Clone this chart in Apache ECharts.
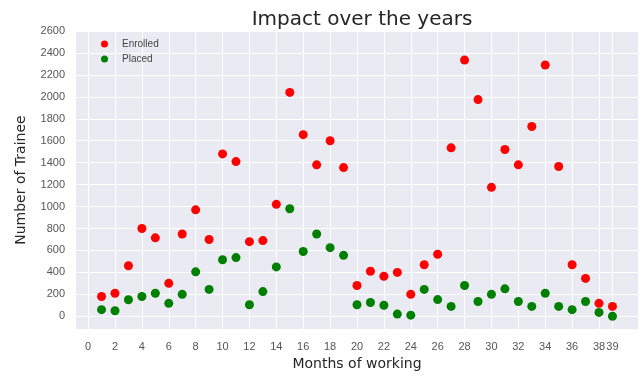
<!DOCTYPE html>
<html>
<head>
<meta charset="utf-8">
<script src="https://cdn.jsdelivr.net/npm/echarts@6/dist/echarts.min.js"></script>
<style>
  html, body { margin: 0; padding: 0; background: #fff; }
  #chart { width: 641px; height: 376px; }
</style>
</head>
<body>
<div id="chart"></div>
<script>
// data
const months = [1,2,3,4,5,6,7,8,9,10,11,12,13,14,15,16,17,18,19,20,21,22,23,24,25,26,27,28,29,30,31,32,33,34,35,36,37,38,39];
const enrolled = [180,210,460,800,715,300,750,970,700,1480,1410,680,690,1020,2040,1655,1380,1600,1355,280,410,365,400,200,470,565,1535,2335,1975,1175,1520,1380,1730,2290,1365,470,345,118,90];
const placed = [60,50,150,180,210,118,200,405,245,515,535,105,225,450,980,590,750,625,555,105,125,100,20,10,245,152,90,280,135,200,250,135,90,210,90,60,135,35,0];
const xTicks = [0,2,4,6,8,10,12,14,16,18,20,22,24,26,28,30,32,34,36,38,39];
const yTicks = [0,200,400,600,800,1000,1200,1400,1600,1800,2000,2200,2400,2600];

const labelFont = '"Liberation Sans", Arial, sans-serif';
const comicFont = '"Comic Sans MS", "DejaVu Sans", sans-serif';

const chart = echarts.init(document.getElementById('chart'));

function pairs(ys) {
  return months.map((m, i) => [m, ys[i]]);
}

chart.setOption({
  animation: false,
  backgroundColor: '#ffffff',
  title: {
    text: 'Impact over the years',
    left: 357,
    textAlign: 'center',
    top: 5,
    textStyle: { fontFamily: comicFont, fontSize: 20, fontWeight: 'normal', color: '#262626' }
  },
  legend: {
    orient: 'vertical',
    left: 96,
    top: 34,
    itemWidth: 7,
    itemHeight: 7,
    itemGap: 5,
    icon: 'circle',
    textStyle: { fontFamily: labelFont, fontSize: 10, color: '#444', padding: [0, 0, 0, 9] },
    data: ['Enrolled', 'Placed']
  },
  grid: {
    left: 76, top: 31, width: 562, height: 309,
    show: true, backgroundColor: '#EAEAF2', borderWidth: 0
  },
  xAxis: {
    type: 'value',
    min: -0.9, max: 40.9,
    name: 'Months of working',
    nameLocation: 'middle',
    nameGap: 20,
    nameTextStyle: { fontFamily: comicFont, fontSize: 14, color: '#262626' },
    axisLine: { show: false },
    axisTick: { show: false, customValues: xTicks },
    axisLabel: { customValues: xTicks, fontFamily: labelFont, fontSize: 11, color: '#555', margin: 12 },
    splitLine: { show: true, lineStyle: { color: '#fff', width: 1 } }
  },
  yAxis: {
    type: 'value',
    min: -117, max: 2600,
    name: 'Number of Trainee',
    nameLocation: 'middle',
    nameRotate: 90,
    nameGap: 48,
    nameTextStyle: { fontFamily: comicFont, fontSize: 14, color: '#262626' },
    axisLine: { show: false },
    axisTick: { show: false, customValues: yTicks },
    axisLabel: {
      customValues: yTicks, fontFamily: labelFont, fontSize: 11, color: '#555', margin: 11,
      formatter: v => String(v)
    },
    splitLine: { show: true, lineStyle: { color: '#fff', width: 1 } }
  },
  series: [
    {
      name: 'Enrolled',
      type: 'scatter',
      symbolSize: 9,
      itemStyle: { color: '#ff0000', opacity: 1 },
      data: pairs(enrolled)
    },
    {
      name: 'Placed',
      type: 'scatter',
      symbolSize: 9,
      itemStyle: { color: '#008000', opacity: 1 },
      data: pairs(placed)
    }
  ]
});
</script>
</body>
</html>
